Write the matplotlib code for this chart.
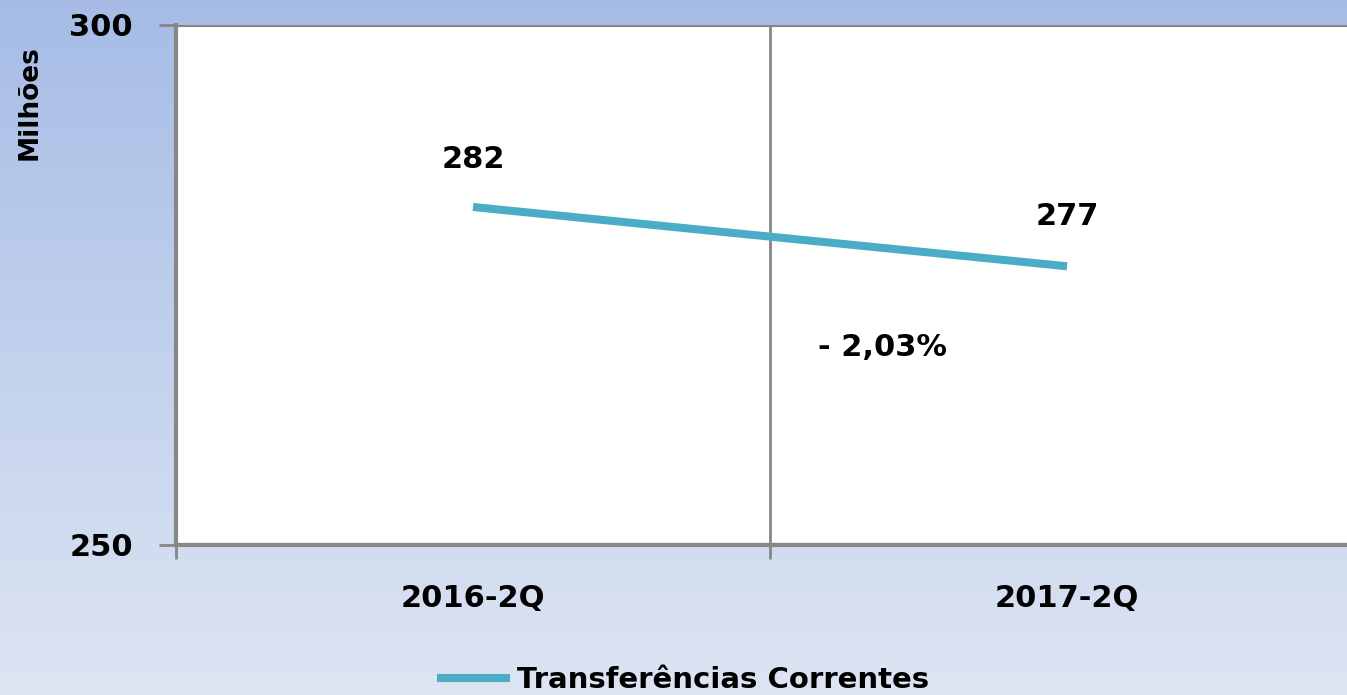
import numpy as np
import matplotlib.pyplot as plt
from matplotlib.colors import LinearSegmentedColormap

# dados
categorias = ['2016-2Q', '2017-2Q']
valores = [282.5, 276.8]
rotulos = ['282', '277']
variacao = '- 2,03%'
serie = 'Transferências Correntes'

cinza = '#878787'
azul = '#4bacc6'

fig = plt.figure(figsize=(13.47, 6.95), dpi=100)

# fundo em degradê
bg = fig.add_axes([0, 0, 1, 1], zorder=0)
grad = np.linspace(0, 1, 256).reshape(-1, 1)
cmap = LinearSegmentedColormap.from_list('fundo', ['#a6bce6', '#dde5f3'])
bg.imshow(grad, aspect='auto', cmap=cmap, extent=[0, 1, 0, 1], origin='upper')
bg.axis('off')

ax = fig.add_axes([176 / 1347, 1 - 545 / 695, 1188 / 1347, 520 / 695], zorder=1)
ax.set_facecolor('white')

x = np.arange(len(categorias))
ax.plot(x, valores, color=azul, lw=5.8, solid_capstyle='butt', label=serie, zorder=3)

ax.set_xlim(-0.5, len(categorias) - 0.5)
ax.set_ylim(250, 300)
ax.set_yticks([250, 300])
ax.set_yticklabels(['250', '300'], fontsize=22, fontweight='bold')
ax.set_xticks(np.arange(-0.5, len(categorias), 1.0))
ax.set_xticklabels([])
ax.set_xticks(x, minor=True)
ax.set_xticklabels(categorias, minor=True, fontsize=22, fontweight='bold')
ax.tick_params(axis='x', which='minor', length=0, pad=28)
ax.tick_params(axis='x', which='major', length=10, width=2, color=cinza)
ax.tick_params(axis='y', length=12, width=2, color=cinza, pad=19)

ax.grid(axis='x', which='major', color=cinza, lw=2)
ax.grid(axis='y', which='major', color=cinza, lw=3)
for s in ['left', 'bottom']:
    ax.spines[s].set_color(cinza)
    ax.spines[s].set_linewidth(3)
for s in ['top', 'right']:
    ax.spines[s].set_visible(False)

# rótulos de dados
ax.annotate(rotulos[0], (x[0], valores[0]), xytext=(0, 48), textcoords='offset pixels',
            ha='center', va='center', fontsize=22, fontweight='bold')
ax.annotate(rotulos[1], (x[1], valores[1]), xytext=(0, 50), textcoords='offset pixels',
            ha='center', va='center', fontsize=22, fontweight='bold')
ax.text((883 - 176) / 1188, 1 - (348 - 25) / 520, variacao, transform=ax.transAxes,
        ha='center', va='center', fontsize=22, fontweight='bold')

fig.text(30 / 1347, 1 - 103 / 695, 'Milhões', rotation=90, ha='center', va='center',
         fontsize=19, fontweight='bold')

fig.legend(loc='center', bbox_to_anchor=(683 / 1347, 1 - 680 / 695), frameon=False,
           prop={'size': 21, 'weight': 'bold'}, handlelength=2.5, handletextpad=0.25,
           borderpad=0)

fig.savefig('out.png', dpi=100)
